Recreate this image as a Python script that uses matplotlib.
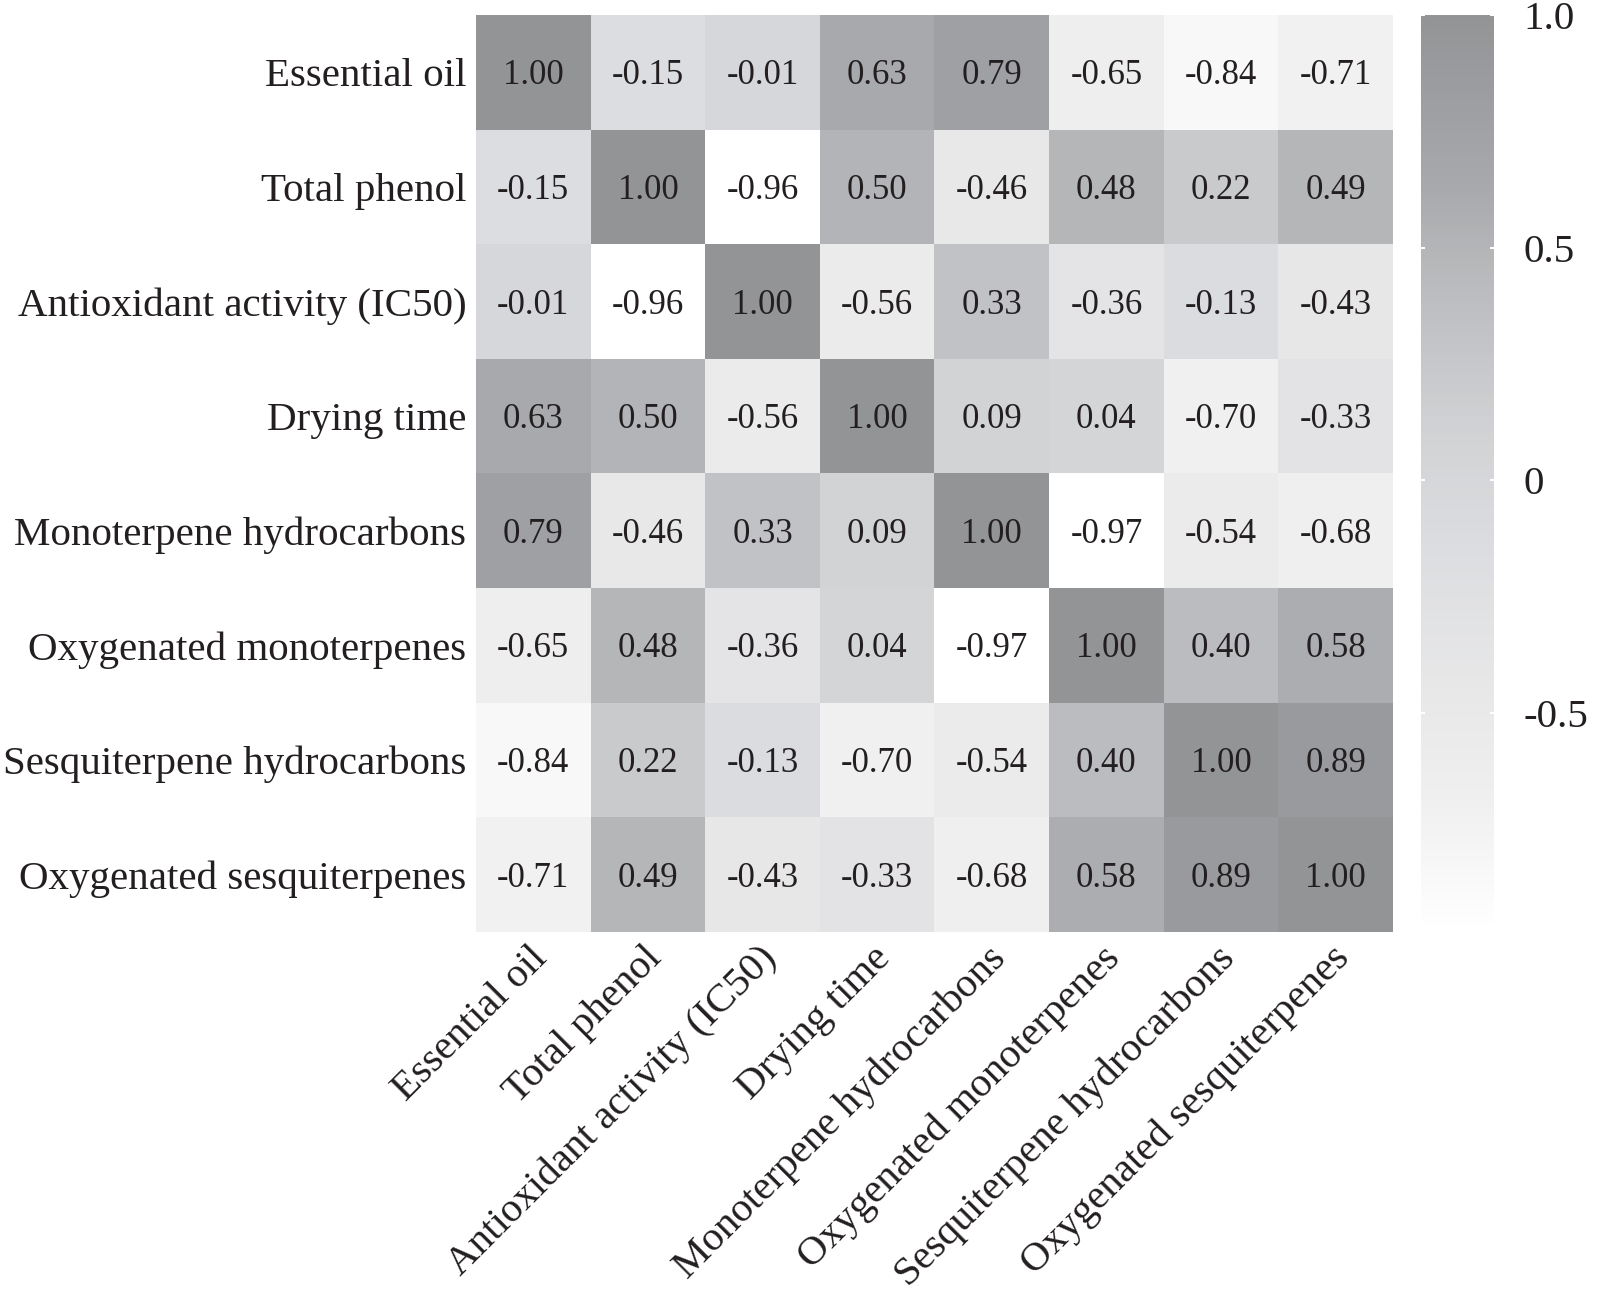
import numpy as np
import matplotlib
matplotlib.use("Agg")
import matplotlib.pyplot as plt
import matplotlib.transforms as mtrans
from matplotlib.colors import LinearSegmentedColormap

plt.rcParams['font.family'] = ['Liberation Serif', 'DejaVu Serif']

labels = ["Essential oil", "Total phenol", "Antioxidant activity (IC50)",
          "Drying time", "Monoterpene hydrocarbons", "Oxygenated monoterpenes",
          "Sesquiterpene hydrocarbons", "Oxygenated sesquiterpenes"]

corr = np.array([
    [1.00, -0.15, -0.01, 0.63, 0.79, -0.65, -0.84, -0.71],
    [-0.15, 1.00, -0.96, 0.50, -0.46, 0.48, 0.22, 0.49],
    [-0.01, -0.96, 1.00, -0.56, 0.33, -0.36, -0.13, -0.43],
    [0.63, 0.50, -0.56, 1.00, 0.09, 0.04, -0.70, -0.33],
    [0.79, -0.46, 0.33, 0.09, 1.00, -0.97, -0.54, -0.68],
    [-0.65, 0.48, -0.36, 0.04, -0.97, 1.00, 0.40, 0.58],
    [-0.84, 0.22, -0.13, -0.70, -0.54, 0.40, 1.00, 0.89],
    [-0.71, 0.49, -0.43, -0.33, -0.68, 0.58, 0.89, 1.00],
])

vmin, vmax = corr.min(), corr.max()

# grey ramp
nodes = [(-0.97, '#ffffff'), (-0.68, '#efefef'), (-0.46, '#e8e8e9'),
         (-0.15, '#dcdde0'), (0.09, '#d2d3d5'), (0.33, '#c1c2c5'),
         (0.50, '#b4b5b7'), (0.63, '#a8a9ac'), (0.79, '#9fa0a3'),
         (1.00, '#939496')]
cmap = LinearSegmentedColormap.from_list(
    'greys', [((v - vmin) / (vmax - vmin), c) for v, c in nodes])

fig = plt.figure(figsize=(16, 12.96), dpi=100)
ax = fig.add_axes([0.2975, 0.2809, 0.5731, 0.7075])
cax = fig.add_axes([0.888, 0.2809, 0.046, 0.7075])

n = len(labels)
mesh = ax.pcolormesh(np.arange(n + 1), np.arange(n + 1), corr,
                     cmap=cmap, vmin=vmin, vmax=vmax)
ax.set_xlim(0, n)
ax.set_ylim(n, 0)
for i in range(n):
    for j in range(n):
        ax.text(j + 0.5, i + 0.53, f"{corr[i, j]:.2f}", ha='center', va='center',
                fontsize=25, color='#231f20')

ax.set_xticks(np.arange(n) + 0.5)
ax.set_yticks(np.arange(n) + 0.5)
ax.set_xticklabels(labels, rotation=45, ha='right', va='top',
                   rotation_mode='anchor', fontsize=29.5, color='#231f20')
ax.set_yticklabels(labels, fontsize=29.5, color='#231f20')
ax.tick_params(length=0, pad=7)
shift = mtrans.ScaledTranslation(-5 / 100, 2 / 100, fig.dpi_scale_trans)
for lab in ax.get_xticklabels():
    lab.set_transform(lab.get_transform() + shift)
for s in ax.spines.values():
    s.set_visible(False)

cb = fig.colorbar(mesh, cax=cax)
cb.outline.set_visible(False)
cb.set_ticks([-0.5, 0, 0.5, 1.0])
cb.set_ticklabels(['-0.5', '0', '0.5', '1.0'])
cax.tick_params(left=True, right=True, direction='in', color='white',
                length=3, width=1.5, labelsize=29.5, pad=21, labelcolor='#231f20')

fig.savefig("out.png", dpi=100)
